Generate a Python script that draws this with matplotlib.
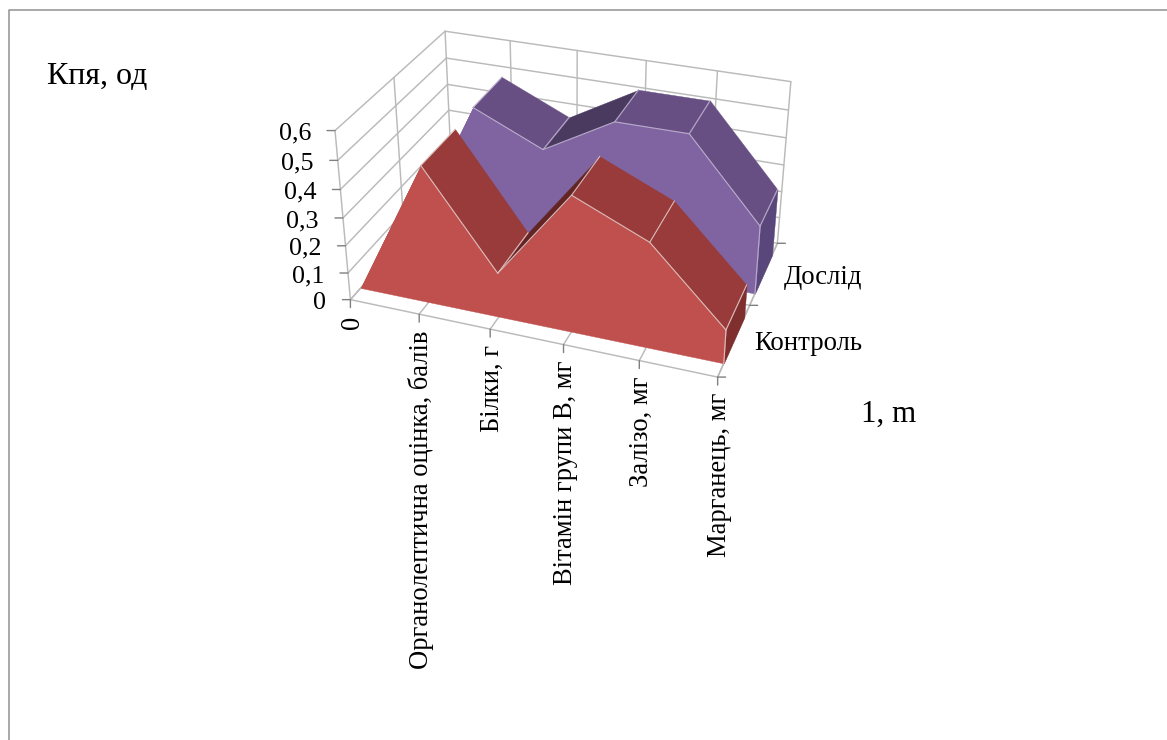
import numpy as np, matplotlib
matplotlib.use('Agg')
import matplotlib.pyplot as plt
from matplotlib.lines import Line2D
from mpl_toolkits.mplot3d.art3d import Poly3DCollection
from mpl_toolkits.mplot3d import proj3d

categories = ['0', 'Органолептична оцінка, балів', 'Білки, г', 'Вітамін групи В, мг', 'Залізо, мг', 'Марганець, мг']
series_names = ['Контроль', 'Дослід']
control = [0.0, 0.49, 0.16, 0.48, 0.37, 0.12]
experiment = [0.0, 0.50, 0.39, 0.53, 0.53, 0.25]
z_ticks = [0.0, 0.1, 0.2, 0.3, 0.4, 0.5, 0.6]
z_labels = ['0', '0,1', '0,2', '0,3', '0,4', '0,5', '0,6']
y_title = 'Кпя, од'
x_title = '1, m'

W, H = 1167, 740
plt.rcParams['font.family'] = ['Liberation Serif', 'DejaVu Serif']
fig = plt.figure(figsize=(W/100, H/100), dpi=100)
fig.add_artist(Line2D([8.5, 8.5, W], [0, H-10, H-10], transform=None, color='#9a9a9a', lw=1.2))

ax = fig.add_subplot(projection='3d')
ax.set_xlim(0, 5); ax.set_ylim(0, 1); ax.set_zlim(0, 0.6)
ax.view_init(29.4236, -70.2137)
ax.set_proj_type('persp', focal_length=0.55337)
ax.set_box_aspect((1.99405, 1.32100, 1))
ax.computed_zorder = False
ax.set_axis_off()
S, TX, TY = 2578.86, 570.68, 549.39
xl = ax.viewLim.intervalx; yl = ax.viewLim.intervaly
ax.set_position([(TX+S*xl[0])/W, (TY+S*yl[0])/H, S*(xl[1]-xl[0])/W, S*(yl[1]-yl[0])/H])
M = ax.get_proj()

def pr(x, y, z):
    X, Y, _ = proj3d.proj_transform(x, y, z, M)
    return float(X), float(Y)

grid = dict(color='#bababa', lw=1.05, zorder=1, solid_capstyle='round')
n = len(categories) - 1
for z in z_ticks:
    ax.plot([0, n], [1, 1], [z, z], **grid)
    ax.plot([0, 0], [0, 1], [z, z], **grid)
for i in range(n + 1):
    ax.plot([i, i], [1, 1], [0, 0.6], **grid)
    ax.plot([i, i], [0, 1], [0, 0], **grid)
for s in (0, 0.5):
    ax.plot([0, 0], [s, s], [0, 0.6], **grid)
    ax.plot([0, n], [s, s], [0, 0], **grid)
ax.plot([n, n], [0, 1], [0, 0], **grid)

order = [10]
def face(verts, c):
    order[0] += 1
    ax.add_collection3d(Poly3DCollection([verts], facecolors=c, edgecolors=c, linewidths=0.3, zorder=order[0]))

def series(vals, s0, s1, front, top, under, end, edge):
    for i in [0, 2, 1, 3, 4]:
        c = under if i == 2 else top
        face([(i, s0, vals[i]), (i+1, s0, vals[i+1]), (i+1, s1, vals[i+1]), (i, s1, vals[i])], c)
    face([(n, s0, 0), (n, s1, 0), (n, s1, vals[n]), (n, s0, vals[n])], end)
    face([(0, s0, 0)] + [(i, s0, vals[i]) for i in range(n+1)] + [(n, s0, 0)], front)
    order[0] += 1
    le = dict(color=edge, lw=0.8, zorder=order[0])
    ax.plot(np.arange(1, n+1), [s0]*n, vals[1:], **le)
    for i in range(1, n+1):
        ax.plot([i, i], [s0, s1], [vals[i], vals[i]], **le)
    ax.plot([n, n], [s0, s0], [0, vals[n]], **le)

series(experiment, 0.59, 0.90, '#8064A2', '#674F84', '#4B3A60', '#59467A', '#b9abcb')
series(control, 0.09, 0.41, '#C0504D', '#983B3A', '#632523', '#7F302E', '#dcbdbc')

def tick(x, y, z, dx, dy):
    ax.annotate('', xy=pr(x, y, z), xycoords='data', xytext=(dx, dy), textcoords='offset pixels',
                arrowprops=dict(arrowstyle='-', color='#808080', lw=1.0, shrinkA=0, shrinkB=0),
                annotation_clip=False)

def label(x, y, z, t, dx, dy, fs=19.3, **kw):
    X, Y = pr(x, y, z)
    ax.annotate(t, xy=(X, Y), xycoords='data', xytext=(dx, dy), textcoords='offset pixels',
                fontsize=fs, color='black', annotation_clip=False, **kw)

for z, t in zip(z_ticks, z_labels):
    tick(0, 0, z, -8, 0)
    label(0, 0, z, t, -24, -3, ha='right', va='center', fs=18.7)
for i, t in enumerate(categories):
    tick(i, 0, 0, 0, -8)
    label(i, 0, 0, t, 2, -16, ha='center', va='top', rotation=90, fs=19.1)
for s in (0, 0.5, 1):
    tick(n, s, 0, 8, 0)
for s, t in zip((0.25, 0.75), series_names):
    label(n, s, 0, t, 20, -4, ha='left', va='center')

fig.text(47/W, 1-77/H, y_title, fontsize=23, ha='left', va='center')
fig.text(861/W, 1-414/H, x_title, fontsize=22.3, ha='left', va='center')
fig.savefig('out.png', dpi=100)
